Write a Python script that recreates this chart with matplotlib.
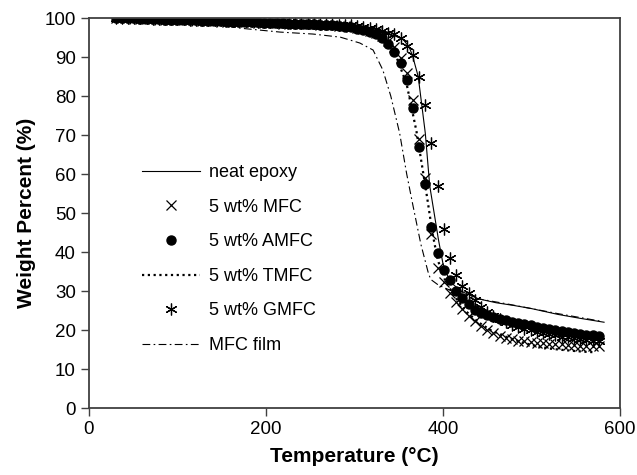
import matplotlib
matplotlib.use("Agg")
import matplotlib.pyplot as plt

plt.rcParams['font.family'] = ['Liberation Sans', 'DejaVu Sans']

# sampled temperatures for the marker series (deg C)
temp_pts = [30, 37, 44, 51, 58, 65, 72, 79, 86, 93, 100, 107, 114, 121, 128, 135, 142, 149, 156, 163,
            170, 177, 184, 191, 198, 205, 212, 219, 226, 233, 240, 247, 254, 261, 268, 275, 282, 289, 296, 303,
            310, 317, 324, 331, 338, 345, 352, 359, 366, 373, 380, 387, 394, 401, 408, 415, 422, 429, 436, 443,
            450, 457, 464, 471, 478, 485, 492, 499, 506, 513, 520, 527, 534, 541, 548, 555, 562, 569, 576]

amfc = [100, 100, 99.9, 99.9, 99.8, 99.8, 99.7, 99.7, 99.6, 99.6, 99.5, 99.5, 99.4, 99.4, 99.3, 99.3, 99.2, 99.2, 99.1, 99.1,
        99.0, 99.0, 98.9, 98.9, 98.8, 98.8, 98.7, 98.7, 98.6, 98.6, 98.5, 98.5, 98.4, 98.3, 98.2, 98.1, 98.0, 97.8, 97.6, 97.3,
        97.0, 96.5, 95.8, 94.8, 93.3, 91.3, 88.4, 84.0, 77.0, 67.0, 57.5, 46.4, 39.7, 35.4, 32.8, 30.0, 28.2, 26.6, 25.2, 24.4,
        23.8, 23.3, 22.9, 22.5, 22.1, 21.8, 21.5, 21.2, 20.9, 20.6, 20.3, 20.1, 19.8, 19.6, 19.3, 19.1, 18.8, 18.6, 18.4]

mfc = [100, 99.9, 99.9, 99.8, 99.8, 99.7, 99.7, 99.6, 99.6, 99.5, 99.5, 99.4, 99.4, 99.3, 99.3, 99.2, 99.2, 99.1, 99.1, 99.0,
       99.0, 98.9, 98.9, 98.8, 98.8, 98.7, 98.7, 98.6, 98.6, 98.5, 98.5, 98.4, 98.4, 98.3, 98.2, 98.1, 98.0, 97.9, 97.8, 97.5,
       97.2, 96.8, 96.2, 95.3, 94.2, 92.5, 89.8, 85.8, 79.0, 69.0, 59.0, 44.5, 36.0, 32.2, 29.5, 27.2, 25.3, 23.6, 22.3, 21.1,
       20.1, 19.2, 18.4, 17.9, 17.6, 17.3, 17.1, 16.9, 16.8, 16.6, 16.5, 16.4, 16.3, 16.2, 16.1, 16.0, 15.9, 15.9, 15.8]

gmfc = [100, 100, 100, 99.9, 99.9, 99.9, 99.8, 99.8, 99.8, 99.7, 99.7, 99.7, 99.6, 99.6, 99.6, 99.5, 99.5, 99.4, 99.4, 99.3,
        99.3, 99.2, 99.2, 99.1, 99.1, 99.0, 99.0, 98.9, 98.9, 98.8, 98.8, 98.7, 98.7, 98.6, 98.5, 98.4, 98.3, 98.3, 98.2, 98.0,
        97.8, 97.5, 97.1, 96.6, 96.2, 95.8, 94.8, 92.8, 90.5, 84.8, 77.8, 68.0, 57.0, 46.0, 38.5, 34.2, 31.3, 29.4, 27.8, 26.0,
        24.6, 23.6, 22.8, 22.0, 21.3, 20.8, 20.3, 19.9, 19.5, 19.2, 18.9, 18.6, 18.3, 18.1, 17.9, 17.7, 17.5, 17.3, 17.1]

# line series
neat_t = [30, 60, 100, 150, 200, 250, 300, 330, 345, 355, 362, 366, 372, 380, 385, 390, 395, 400, 405, 410,
          420, 430, 440, 460, 480, 500, 530, 555, 582]
neat_w = [100, 99.6, 99.2, 98.4, 97.6, 97.2, 96.8, 96.2, 95.5, 94.5, 92.5, 90, 85, 70.5, 57, 50, 43, 37, 34, 32,
          30, 29, 28, 27, 26.3, 25.5, 24, 23, 22]

tmfc_t = [30, 100, 200, 280, 310, 330, 345, 359, 370, 380, 383, 388, 394, 402, 412, 425, 440, 455, 472, 490,
          510, 530, 550, 562, 572]
tmfc_w = [100, 99.5, 98.8, 98.0, 97.0, 95.0, 91.5, 83, 71, 57, 52.6, 45, 38, 33, 29, 25, 22, 19.8, 18.2, 16.8,
          15.6, 15.0, 14.6, 14.4, 14.3]

film_t = [30, 100, 150, 171, 216, 253, 284, 306, 321, 332, 341, 351, 359, 366, 375, 383, 386, 395, 410, 420,
          440, 470, 500, 530, 555, 580]
film_w = [100, 99.2, 98.2, 97.4, 96.4, 95.9, 95.1, 93.6, 91.8, 86.7, 80, 70.5, 60, 52, 42, 35, 33, 31.5, 30, 29.3,
          28, 26.8, 25.5, 24.2, 23.2, 22.2]

fig = plt.figure(figsize=(6.37, 4.75), dpi=100)
ax = fig.add_axes([0.1397, 0.141, 0.8336, 0.821])

ax.plot(neat_t, neat_w, color='black', lw=0.8, label='neat epoxy')
ax.plot(temp_pts, mfc, ls='none', marker='x', ms=7.5, mew=0.9, color='black', label='5 wt% MFC')
ax.plot(temp_pts, amfc, ls='none', marker='o', ms=6.5, color='black', label='5 wt% AMFC')
ax.plot(tmfc_t, tmfc_w, color='black', lw=1.6, ls=(0, (1, 1.6)), label='5 wt% TMFC')
ax.plot(temp_pts, gmfc, ls='none', marker=(6, 2, 0), ms=8.5, mew=0.9, color='black', label='5 wt% GMFC')
ax.plot(film_t, film_w, color='black', lw=0.8, ls=(0, (7, 3, 1.5, 3)), label='MFC film')

ax.set_xlim(0, 600)
ax.set_ylim(0, 100)
ax.set_xticks([0, 200, 400, 600])
ax.set_yticks(range(0, 101, 10))
ax.tick_params(direction='out', length=6, width=1, colors='#404040', labelcolor='black', labelsize=13.5)
for s in ax.spines.values():
    s.set_color('#404040')
    s.set_linewidth(1.3)

ax.set_xlabel('Temperature (°C)', fontsize=15, fontweight='bold', labelpad=6)
ax.set_ylabel('Weight Percent (%)', fontsize=15, fontweight='bold', labelpad=6)

ax.legend(loc='upper left', bbox_to_anchor=(0.1, 0.625), frameon=False, fontsize=13,
          handlelength=3.2, handletextpad=0.5, labelspacing=0.97, borderpad=0, borderaxespad=0)

fig.savefig('out.png', dpi=100)
